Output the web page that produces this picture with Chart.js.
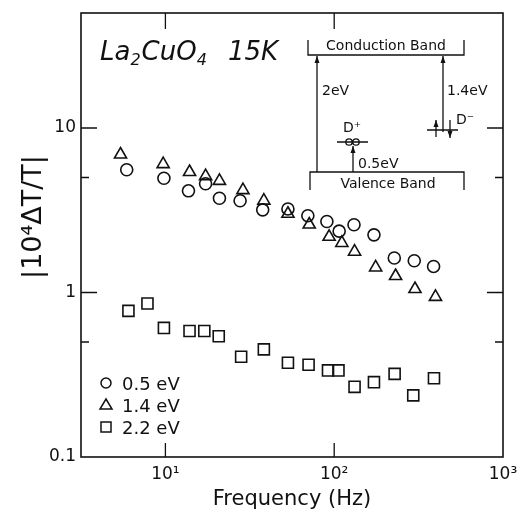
<!DOCTYPE html>
<html>
<head>
<meta charset="utf-8">
<script src="https://cdn.jsdelivr.net/npm/chart.js@4.4.1/dist/chart.umd.min.js"></script>
<style>
  html, body { margin: 0; padding: 0; background: #fff; }
  #wrap { width: 517px; height: 512px; }
</style>
</head>
<body>
<div id="wrap"><canvas id="chart" width="517" height="512"></canvas></div>
<script>
// Data (frequency in Hz, |10^4 dT/T|)
const freq05 = [5.9, 9.8, 13.7, 17.3, 20.9, 27.7, 37.7, 53.2, 69.8, 90.5, 107, 131, 172, 227, 298, 388];
const val05 = [5.57, 4.95, 4.15, 4.58, 3.74, 3.61, 3.18, 3.22, 2.93, 2.70, 2.36, 2.58, 2.24, 1.62, 1.56, 1.44];

const freq14 = [5.42, 9.7, 13.9, 17.3, 20.9, 28.8, 38.3, 53.2, 71.1, 93.3, 111, 132, 176, 231, 301, 398];
const val14 = [6.90, 6.03, 5.40, 5.10, 4.77, 4.19, 3.62, 3.01, 2.59, 2.18, 2.00, 1.77, 1.42, 1.26, 1.05, 0.94];

const freq22 = [6.04, 7.83, 9.8, 13.9, 17.0, 20.7, 28.1, 38.3, 53.2, 70.5, 91.9, 106, 132, 172, 228, 294, 390];
const val22 = [0.773, 0.857, 0.609, 0.583, 0.583, 0.542, 0.407, 0.451, 0.374, 0.364, 0.336, 0.336, 0.267, 0.285, 0.320, 0.237, 0.301];

const seriesLabels = ['0.5 eV', '1.4 eV', '2.2 eV'];
const seriesStyles = ['circle', 'triangle', 'rect'];

const xTicks = [10, 100, 1000];
const xTickLabels = ['10\u00b9', '10\u00b2', '10\u00b3'];
const yTicks = [0.1, 0.5, 1, 5, 10];
const yTickLabels = ['0.1', '', '1', '', '10'];

const FONT = "'DejaVu Sans', sans-serif";
const INK = '#111';

function pts(xs, ys) {
  return xs.map((x, i) => ({x: x, y: ys[i]}));
}

function dataset(i, xs, ys, radius) {
  return {
    label: seriesLabels[i],
    data: pts(xs, ys),
    pointStyle: seriesStyles[i],
    pointRadius: radius,
    pointBorderWidth: 1.6,
    borderColor: INK,
    backgroundColor: 'rgba(0,0,0,0)',
    showLine: false
  };
}

// frame + inward ticks on all four sides
const framePlugin = {
  id: 'frame',
  afterDraw(chart) {
    const ctx = chart.ctx;
    const a = chart.chartArea;
    const sx = chart.scales.x, sy = chart.scales.y;
    ctx.save();
    ctx.strokeStyle = INK;
    ctx.lineWidth = 1.6;
    ctx.strokeRect(a.left, a.top, a.right - a.left, a.bottom - a.top);
    ctx.lineWidth = 1.3;
    ctx.beginPath();
    xTicks.forEach(v => {
      const px = sx.getPixelForValue(v);
      if (px > a.right - 2) return;
      ctx.moveTo(px, a.bottom); ctx.lineTo(px, a.bottom - 14);
      ctx.moveTo(px, a.top); ctx.lineTo(px, a.top + 16);
    });
    yTicks.forEach((v, i) => {
      const py = sy.getPixelForValue(v);
      if (py > a.bottom - 2) return;
      const len = yTickLabels[i] ? 16 : 8;
      ctx.moveTo(a.left, py); ctx.lineTo(a.left + len, py);
      ctx.moveTo(a.right, py); ctx.lineTo(a.right - len, py);
    });
    ctx.stroke();
    ctx.restore();
  }
};

function arrow(ctx, x, y1, y2) {
  // line from y1 to y2, head at y2
  ctx.beginPath();
  ctx.moveTo(x, y1); ctx.lineTo(x, y2);
  ctx.stroke();
  const d = y2 < y1 ? 1 : -1;
  ctx.beginPath();
  ctx.moveTo(x, y2);
  ctx.lineTo(x - 2.5, y2 + d * 7);
  ctx.lineTo(x + 2.5, y2 + d * 7);
  ctx.closePath();
  ctx.fill();
}

// title, y-axis title, band diagram and legend
const notesPlugin = {
  id: 'notes',
  afterDraw(chart) {
    const ctx = chart.ctx;
    const a = chart.chartArea;
    const X = v => a.left + (v - 81);
    const Y = v => a.top + (v - 13);
    ctx.save();
    ctx.fillStyle = INK;
    ctx.strokeStyle = INK;
    ctx.textBaseline = 'alphabetic';

    // La2CuO4 15K
    let x = X(100);
    const big = 'italic 26px ' + FONT, small = 'italic 16px ' + FONT;
    [['La', big, 0], ['2', small, 5], ['CuO', big, 0], ['4', small, 5]].forEach(p => {
      ctx.font = p[1];
      ctx.fillText(p[0], x, Y(60) + p[2]);
      x += ctx.measureText(p[0]).width + (p[1] === small ? 1 : 0);
    });
    ctx.font = big;
    ctx.fillText('15K', X(228), Y(60));

    // y axis title
    ctx.save();
    ctx.translate(34, Y(217));
    ctx.rotate(-Math.PI / 2);
    ctx.font = '27px ' + FONT;
    ctx.textAlign = 'center';
    ctx.textBaseline = 'middle';
    ctx.fillText('|10\u2074\u0394T/T|', 0, 0);
    ctx.restore();

    // band diagram
    ctx.lineWidth = 1.3;
    ctx.beginPath();
    ctx.moveTo(X(308), Y(40)); ctx.lineTo(X(308), Y(55)); ctx.lineTo(X(464), Y(55)); ctx.lineTo(X(464), Y(40));
    ctx.moveTo(X(310), Y(190)); ctx.lineTo(X(310), Y(172)); ctx.lineTo(X(464), Y(172)); ctx.lineTo(X(464), Y(190));
    ctx.moveTo(X(337), Y(142)); ctx.lineTo(X(368), Y(142));
    ctx.moveTo(X(427), Y(130)); ctx.lineTo(X(458), Y(130));
    ctx.stroke();
    arrow(ctx, X(317), Y(172), Y(56));
    arrow(ctx, X(443), Y(132), Y(56));
    arrow(ctx, X(353), Y(172), Y(146));
    arrow(ctx, X(436), Y(137), Y(120));
    arrow(ctx, X(450), Y(120), Y(138));
    ctx.beginPath();
    ctx.arc(X(349), Y(142), 3.2, 0, Math.PI * 2);
    ctx.moveTo(X(359.2), Y(142));
    ctx.arc(X(356), Y(142), 3.2, 0, Math.PI * 2);
    ctx.stroke();

    ctx.font = '14px ' + FONT;
    ctx.textAlign = 'center';
    ctx.fillText('Conduction Band', X(386), Y(50));
    ctx.fillText('Valence Band', X(388), Y(188));
    ctx.textAlign = 'left';
    ctx.fillText('2eV', X(322), Y(95));
    ctx.fillText('1.4eV', X(447), Y(95));
    ctx.fillText('0.5eV', X(358), Y(168));
    ctx.fillText('D\u207a', X(343), Y(132));
    ctx.fillText('D\u207b', X(456), Y(124));

    // legend
    ctx.font = '18px ' + FONT;
    [383, 405, 427].forEach((yy, i) => {
      const cx = X(106), cy = Y(yy);
      ctx.lineWidth = 1.5;
      ctx.beginPath();
      if (i === 0) {
        ctx.arc(cx, cy, 5, 0, Math.PI * 2);
      } else if (i === 1) {
        ctx.moveTo(cx, cy - 6); ctx.lineTo(cx + 6, cy + 4); ctx.lineTo(cx - 6, cy + 4); ctx.closePath();
      } else {
        ctx.rect(cx - 5, cy - 5, 10, 10);
      }
      ctx.stroke();
      ctx.fillText(seriesLabels[i], X(122), cy + 7);
    });
    ctx.restore();
  }
};

new Chart(document.getElementById('chart'), {
  type: 'scatter',
  data: {
    datasets: [
      dataset(0, freq05, val05, 6),
      dataset(1, freq14, val14, 7),
      dataset(2, freq22, val22, 7.8)
    ]
  },
  options: {
    responsive: false,
    animation: false,
    layout: { padding: { top: 13, right: 14, left: 0, bottom: 0 } },
    plugins: { legend: { display: false }, tooltip: { enabled: false } },
    scales: {
      x: {
        type: 'logarithmic',
        min: Math.pow(10, 0.5),
        max: 1000,
        afterBuildTicks: s => { s.ticks = xTicks.map(v => ({value: v})); },
        afterFit: s => { s.height = 55; s.paddingLeft = 0; s.paddingRight = 0; },
        grid: { display: false, drawTicks: false },
        border: { display: false },
        ticks: {
          callback: v => xTickLabels[xTicks.indexOf(v)],
          color: INK,
          font: { family: FONT, size: 17 },
          padding: 7,
          maxRotation: 0,
          autoSkip: false
        },
        title: {
          display: true,
          text: 'Frequency (Hz)',
          color: INK,
          font: { family: FONT, size: 21 },
          padding: { top: 2, bottom: 0 }
        }
      },
      y: {
        type: 'logarithmic',
        min: 0.1,
        max: 50,
        afterBuildTicks: s => { s.ticks = yTicks.map(v => ({value: v})); },
        afterFit: s => { s.width = 81; s.paddingTop = 0; s.paddingBottom = 0; },
        grid: { display: false, drawTicks: false },
        border: { display: false },
        ticks: {
          callback: v => yTickLabels[yTicks.indexOf(v)],
          color: INK,
          font: { family: FONT, size: 17 },
          padding: 5,
          autoSkip: false
        }
      }
    }
  },
  plugins: [framePlugin, notesPlugin]
});
</script>
</body>
</html>
